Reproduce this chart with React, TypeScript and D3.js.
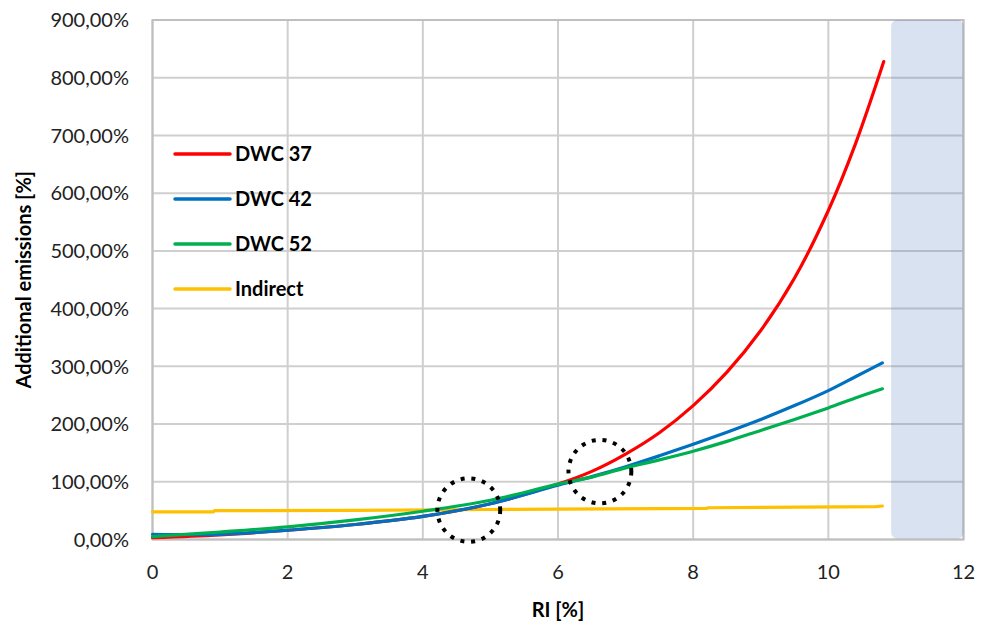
import React from "react";
import * as d3 from "d3";

const xValues = [0, 1, 2, 3, 4, 5, 6, 6.5, 7, 7.5, 8, 8.5, 9, 9.5, 10, 10.4, 10.8];
const dwc42 = [9, 9, 16, 26, 40, 62, 94, 109, 126, 145, 165, 186, 208, 232, 258, 282, 306];
const dwc52 = [5, 13, 22, 34, 49, 68, 96, 108, 124, 138, 153, 170, 189, 208, 228, 245, 261];
const dwc37X = [0, 1, 2, 3, 4, 5, 6, 6.5, 7, 7.5, 8, 8.5, 9, 9.5, 10, 10.4, 10.82];
const dwc37 = [3, 8, 16, 26, 40, 62, 96, 118, 148, 185, 232, 290, 362, 453, 570, 685, 828];
const indirectX = [0, 0.9, 0.92, 3, 5, 8.2, 8.22, 10.7, 10.8];
const indirect = [48, 48, 50, 50.5, 52, 54, 55, 57, 58];

const xTicks = [0, 2, 4, 6, 8, 10, 12];
const yTicks = [0, 100, 200, 300, 400, 500, 600, 700, 800, 900];
const seriesNames = ["DWC 37", "DWC 42", "DWC 52", "Indirect"];
const seriesColors = ["#FF0000", "#0070C0", "#00B050", "#FFC000"];
const shadedRange = [10.93, 12];
const circles = [
  { x: 4.68, y: 51 },
  { x: 6.62, y: 117.6 },
];

const W = 986;
const H = 626;
const FONT = "Lato, 'Open Sans', sans-serif";

export default function App() {
  const x = d3.scaleLinear().domain([0, 12]).range([152.5, 963.5]);
  const y = d3.scaleLinear().domain([0, 900]).range([539.5, 20]);
  const line = d3
    .line<[number, number]>()
    .x((d) => x(d[0]))
    .y((d) => y(d[1]))
    .curve(d3.curveCatmullRom.alpha(0.5));
  const stepLine = d3
    .line<[number, number]>()
    .x((d) => x(d[0]))
    .y((d) => y(d[1]))
    .curve(d3.curveLinear);

  const series = [
    dwc37X.map((v, i) => [v, dwc37[i]] as [number, number]),
    xValues.map((v, i) => [v, dwc42[i]] as [number, number]),
    xValues.map((v, i) => [v, dwc52[i]] as [number, number]),
    indirectX.map((v, i) => [v, indirect[i]] as [number, number]),
  ];
  const drawOrder = [3, 0, 1, 2];
  const fmt = (v: number) => v.toFixed(2).replace(".", ",") + "%";
  const pxPerUnitX = x(1) - x(0);
  const pxPerUnitY = y(0) - y(100);

  return (
    <svg
      width={W}
      height={H}
      style={{ position: "absolute", left: 0, top: 0, background: "#fff" }}
      fontFamily={FONT}
    >
      {/* grid */}
      {yTicks.map((t) => (
        <line key={"gy" + t} x1={x(0)} x2={x(12)} y1={y(t)} y2={y(t)} stroke="#CFCFCF" strokeWidth={2} />
      ))}
      {xTicks.map((t) => (
        <line key={"gx" + t} x1={x(t)} x2={x(t)} y1={y(0)} y2={y(900)} stroke="#CFCFCF" strokeWidth={2} />
      ))}
      <rect x={x(0)} y={y(900)} width={x(12) - x(0)} height={y(0) - y(900)} fill="none" stroke="#BFBFBF" strokeWidth={2} />
      {/* shaded area */}
      <rect
        x={x(shadedRange[0])}
        y={y(900)}
        width={x(shadedRange[1]) - x(shadedRange[0])}
        height={y(0) - y(900) - 1}
        rx={6}
        fill="rgb(74,117,188)"
        fillOpacity={0.21}
      />
      {/* lines */}
      {drawOrder.map((i) => (
        <path
          key={"s" + i}
          d={(i === 3 ? stepLine(series[i]) : line(series[i])) || ""}
          fill="none"
          stroke={seriesColors[i]}
          strokeWidth={3.2}
          strokeLinecap="round"
        />
      ))}
      {/* dotted circles */}
      {circles.map((c, i) => (
        <ellipse
          key={"c" + i}
          cx={x(c.x)}
          cy={y(c.y)}
          rx={pxPerUnitX * 0.465}
          ry={pxPerUnitY * 0.55}
          fill="none"
          stroke="#000"
          strokeWidth={4}
          strokeDasharray="4 6.8"
        />
      ))}
      {/* y tick labels */}
      {yTicks.map((t) => (
        <text key={"yl" + t} x={129} y={y(t)} dy="0.36em" textAnchor="end" fontSize={20} fill="#222">
          {fmt(t)}
        </text>
      ))}
      {/* x tick labels */}
      {xTicks.map((t) => (
        <text key={"xl" + t} x={x(t)} y={579} textAnchor="middle" fontSize={20} fill="#222">
          {t}
        </text>
      ))}
      {/* axis titles */}
      <text x={x(6)} y={617} textAnchor="middle" fontSize={20} fontWeight="bold" fill="#000">
        RI [%]
      </text>
      <text
        transform={`translate(31, ${y(450)}) rotate(-90)`}
        textAnchor="middle"
        fontSize={20}
        fontWeight="bold"
        fill="#000"
      >
        Additional emissions [%]
      </text>
      {/* legend */}
      {seriesNames.map((n, i) => (
        <g key={"lg" + i} transform={`translate(175, ${154 + i * 45})`}>
          <line x1={0} x2={55} y1={0} y2={0} stroke={seriesColors[i]} strokeWidth={3.5} strokeLinecap="round" />
          <text x={60} y={0} dy="0.36em" fontSize={20} fontWeight="bold" fill="#000">
            {n}
          </text>
        </g>
      ))}
    </svg>
  );
}
